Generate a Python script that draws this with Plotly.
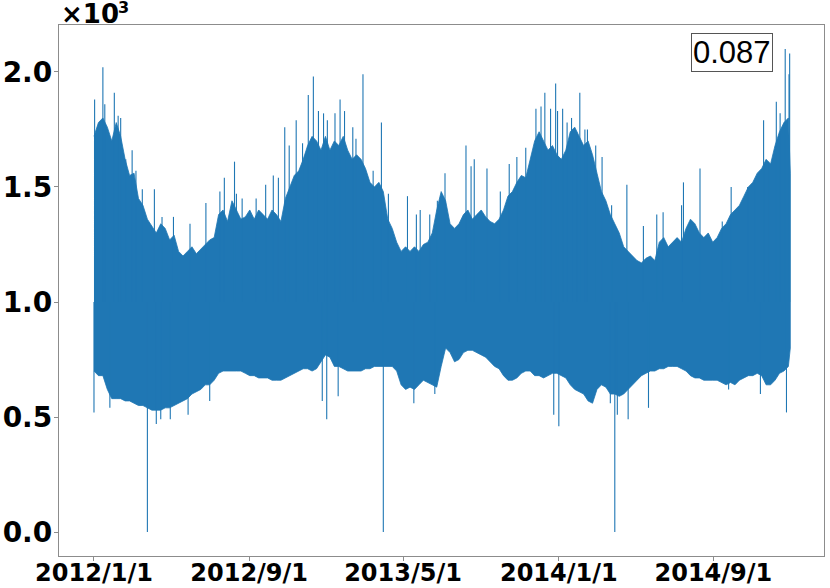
import pandas as pd
import plotly.graph_objects as go

# weekly envelope of the dense part of the load band (x 10^3), 2012-01-01 .. 2014-12-28, then 2014-12-31
band_dates = list(pd.date_range('2012-01-01', periods=157, freq='7D').strftime('%Y-%m-%d')) + ['2014-12-31']
band_hi = [
    1.72, 1.78, 1.80, 1.76, 1.70, 1.78, 1.72, 1.62, 1.55, 1.56,
    1.45, 1.42, 1.36, 1.33, 1.30, 1.34, 1.32, 1.27, 1.29, 1.22,
    1.20, 1.22, 1.24, 1.21, 1.23, 1.25, 1.27, 1.28, 1.38, 1.40,
    1.35, 1.44, 1.40, 1.36, 1.37, 1.40, 1.36, 1.40, 1.38, 1.36,
    1.40, 1.38, 1.35, 1.45, 1.50, 1.55, 1.57, 1.62, 1.68, 1.72,
    1.70, 1.66, 1.72, 1.66, 1.70, 1.68, 1.72, 1.66, 1.62, 1.64,
    1.62, 1.58, 1.52, 1.50, 1.52, 1.48, 1.36, 1.32, 1.26, 1.22,
    1.24, 1.22, 1.24, 1.22, 1.25, 1.26, 1.30, 1.40,
    1.48, 1.44, 1.34, 1.32, 1.34, 1.38, 1.40, 1.36, 1.38, 1.40,
    1.37, 1.35, 1.34, 1.36, 1.40, 1.46, 1.48, 1.52, 1.55, 1.54,
    1.62, 1.70, 1.74, 1.70, 1.66, 1.68, 1.64, 1.62, 1.66, 1.74,
    1.76, 1.72, 1.68, 1.70, 1.64, 1.56, 1.48, 1.44, 1.38, 1.34,
    1.30, 1.24, 1.22, 1.20, 1.18, 1.17, 1.19, 1.20, 1.18, 1.26,
    1.28, 1.24, 1.26, 1.28, 1.26, 1.32, 1.36, 1.34, 1.30, 1.28,
    1.30, 1.26, 1.28, 1.32, 1.34, 1.38, 1.40, 1.42, 1.46, 1.50,
    1.52, 1.56, 1.58, 1.62, 1.60, 1.68, 1.74, 1.78, 1.80,
    1.56,
]
band_lo = [
    0.70, 0.68, 0.68, 0.62, 0.58, 0.58, 0.58, 0.57, 0.57, 0.56,
    0.55, 0.55, 0.54, 0.53, 0.53, 0.53, 0.54, 0.54, 0.55, 0.56,
    0.57, 0.58, 0.60, 0.61, 0.62, 0.64, 0.64, 0.66, 0.69, 0.70,
    0.70, 0.70, 0.70, 0.70, 0.69, 0.68, 0.68, 0.67, 0.67, 0.67,
    0.66, 0.66, 0.66, 0.67, 0.68, 0.69, 0.70, 0.71, 0.71, 0.70,
    0.71, 0.74, 0.77, 0.76, 0.72, 0.72, 0.71, 0.70, 0.70, 0.70,
    0.70, 0.71, 0.71, 0.72, 0.72, 0.72, 0.72, 0.72, 0.70, 0.64,
    0.62, 0.63, 0.62, 0.64, 0.66, 0.65, 0.64, 0.63,
    0.72, 0.80, 0.78, 0.74, 0.75, 0.78, 0.79, 0.79, 0.78, 0.77,
    0.76, 0.74, 0.72, 0.71, 0.68, 0.66, 0.66, 0.67, 0.69, 0.70,
    0.70, 0.68, 0.68, 0.67, 0.68, 0.69, 0.69, 0.68, 0.67, 0.64,
    0.62, 0.61, 0.60, 0.57, 0.56, 0.62, 0.64, 0.63, 0.60, 0.60,
    0.59, 0.60, 0.62, 0.64, 0.66, 0.68, 0.69, 0.70, 0.70, 0.71,
    0.71, 0.72, 0.72, 0.72, 0.71, 0.70, 0.68, 0.67, 0.67, 0.66,
    0.66, 0.66, 0.66, 0.65, 0.64, 0.65, 0.64, 0.66, 0.67, 0.68,
    0.68, 0.69, 0.68, 0.64, 0.64, 0.66, 0.69, 0.70, 0.72,
    0.80,
]

# isolated upward peaks
peak_dates = [
    '2012-01-02', '2012-01-15', '2012-01-18', '2012-02-02', '2012-02-08', '2012-02-12',
    '2012-02-20', '2012-03-01', '2012-03-07', '2012-03-17', '2012-04-05', '2012-04-17',
    '2012-05-05', '2012-05-31', '2012-06-25', '2012-07-17', '2012-07-24', '2012-08-09',
    '2012-08-12', '2012-08-21', '2012-09-12', '2012-09-27', '2012-10-09', '2012-10-17',
    '2012-10-27', '2012-11-03', '2012-11-14', '2012-11-24', '2012-12-03', '2012-12-11',
    '2012-12-19', '2012-12-27', '2013-01-02', '2013-01-14', '2013-01-22', '2013-01-29',
    '2013-02-11', '2013-02-16', '2013-02-27', '2013-03-15', '2013-03-28', '2013-04-08',
    '2013-05-08', '2013-05-22', '2013-05-28', '2013-06-12', '2013-06-24', '2013-07-06',
    '2013-08-08', '2013-08-16', '2013-08-21', '2013-09-10', '2013-10-01', '2013-10-15',
    '2013-10-27', '2013-11-10', '2013-11-26', '2013-12-04', '2013-12-10', '2013-12-19',
    '2013-12-27', '2013-12-30', '2014-01-07', '2014-01-14', '2014-01-21', '2014-01-29',
    '2014-02-03', '2014-02-11', '2014-02-15', '2014-02-28', '2014-03-10', '2014-03-25',
    '2014-04-18', '2014-05-14', '2014-06-04', '2014-06-14', '2014-07-13', '2014-07-16',
    '2014-08-11', '2014-09-15', '2014-09-29', '2014-10-25', '2014-11-06', '2014-11-19',
    '2014-11-27', '2014-12-09', '2014-12-15', '2014-12-23', '2014-12-29', '2014-12-30',
]
peak_vals = [
    1.88, 2.02, 1.86, 1.91, 1.81, 1.80,
    1.62, 1.66, 1.57, 1.49, 1.49, 1.37,
    1.37, 1.34, 1.43, 1.48, 1.54, 1.61,
    1.47, 1.45, 1.45, 1.51, 1.55, 1.54,
    1.76, 1.68, 1.79, 1.69, 1.90, 1.98,
    1.83, 1.82, 1.79, 1.82, 1.88, 1.83,
    1.76, 1.71, 1.99, 1.57, 1.78, 1.47,
    1.46, 1.38, 1.40, 1.38, 1.44, 1.56,
    1.68, 1.59, 1.62, 1.58, 1.48, 1.60,
    1.63, 1.67, 1.84, 1.85, 1.91, 1.84,
    1.95, 1.83, 1.84, 1.78, 1.80, 1.74,
    1.91, 1.75, 1.75, 1.68, 1.63, 1.42,
    1.51, 1.33, 1.38, 1.39, 1.42, 1.52,
    1.58, 1.35, 1.50, 1.50, 1.53, 1.79,
    1.61, 1.87, 1.82, 2.10, 1.99, 2.08,
]

# isolated downward dips (holidays, DST change)
dip_dates = [
    '2012-01-01', '2012-01-26', '2012-03-25', '2012-04-08', '2012-04-15', '2012-04-30',
    '2012-05-28', '2012-07-01', '2012-12-25', '2013-01-01', '2013-01-19', '2013-03-31',
    '2013-05-18', '2013-06-20', '2013-12-24', '2014-01-01', '2014-03-23', '2014-03-30',
    '2014-04-03', '2014-04-20', '2014-05-22', '2014-09-25', '2014-11-14', '2014-12-25',
]
dip_vals = [
    0.52, 0.54, 0.00, 0.47, 0.49, 0.49,
    0.51, 0.57, 0.57, 0.49, 0.59, 0.00,
    0.56, 0.60, 0.51, 0.46, 0.56, 0.00,
    0.51, 0.49, 0.54, 0.62, 0.60, 0.52,
]

tick_dates = ['2012-01-01', '2012-09-01', '2013-05-01', '2014-01-01', '2014-09-01']
tick_text = ['2012/1/1', '2012/9/1', '2013/5/1', '2014/1/1', '2014/9/1']
score_text = '0.087'

BLUE = '#1f77b4'

fig = go.Figure()

# solid core of the series
fig.add_trace(go.Scatter(
    x=band_dates + band_dates[::-1],
    y=band_hi + band_lo[::-1],
    fill='toself',
    fillcolor=BLUE,
    line=dict(color=BLUE, width=0.8),
    mode='lines',
    hoverinfo='skip',
    showlegend=False
))

# spikes drawn as vertical strokes out of the band
sx, sy = [], []
for d, v in zip(peak_dates + dip_dates, peak_vals + dip_vals):
    sx += [d, d, None]
    sy += [1.0, v, None]
fig.add_trace(go.Scatter(
    x=sx, y=sy,
    mode='lines',
    line=dict(color=BLUE, width=1.1),
    hoverinfo='skip',
    showlegend=False
))

# offset text "x10^3" above the y axis, mantissa and exponent as two pieces
fig.add_annotation(
    text='×10',
    xref='paper', yref='paper', x=0, y=1,
    xanchor='left', yanchor='bottom', yshift=-6,
    showarrow=False,
    font=dict(family='DejaVu Sans', size=26, color='black', weight='bold')
)
fig.add_annotation(
    text='3',
    xref='paper', yref='paper', x=0.075, y=1,
    xanchor='left', yanchor='bottom', yshift=6,
    showarrow=False,
    font=dict(family='DejaVu Sans', size=16, color='black', weight='bold')
)

fig.add_annotation(
    text=score_text,
    xref='paper', yref='paper', x=0.933, y=0.984,
    xanchor='right', yanchor='top',
    showarrow=False,
    bgcolor='white', bordercolor='#555555', borderwidth=1, borderpad=1,
    font=dict(family='Liberation Sans', size=31, color='black')
)

axis_style = dict(
    showline=True, mirror=True, linecolor='#8c8c8c', linewidth=1.3,
    showgrid=False, zeroline=False, automargin=False,
    ticks='outside', ticklen=4, tickcolor='#8c8c8c',
)

fig.update_xaxes(
    type='date',
    range=['2011-11-07', '2015-02-22'],
    tickvals=tick_dates, ticktext=tick_text,
    ticklabelstandoff=-9,
    tickfont=dict(family='DejaVu Sans', size=24, color='black', weight='bold'),
    **axis_style
)
fig.update_yaxes(
    range=[-0.104, 2.204],
    tickvals=[0, 0.5, 1.0, 1.5, 2.0], tickformat='.1f',
    ticklabelstandoff=-4,
    tickfont=dict(family='DejaVu Sans', size=28, color='black', weight='bold'),
    **axis_style
)

fig.update_layout(
    width=830, height=588,
    margin=dict(l=59, r=6, t=25, b=32),
    plot_bgcolor='white', paper_bgcolor='white',
    showlegend=False
)

# drop the page's default body margin so the figure sits at the window's corner
fig.write_html(
    'out.html',
    config={'displayModeBar': False},
    post_script="document.body.style.margin='0';document.body.style.overflow='hidden';"
)
